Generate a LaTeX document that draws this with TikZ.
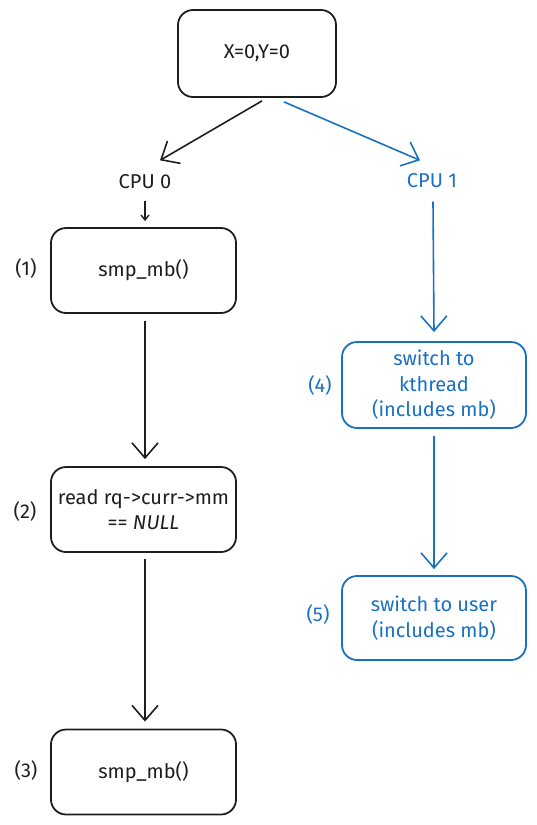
\documentclass[tikz,border=0pt]{standalone}
\usepackage{fontspec}
\usepackage{tikz}
\usetikzlibrary{arrows.meta,positioning}
\setmainfont{Fira Sans}
\definecolor{Ink}{HTML}{1E1E1E}
\definecolor{Blue}{HTML}{1971C2}

\begin{document}
\begin{tikzpicture}[x=1pt,y=-1pt,
    box/.style={draw=Ink,line width=1.8pt,rounded corners=15pt,minimum width=185pt,minimum height=85pt,align=center,text=Ink,font=\fontsize{20}{25.5}\selectfont,inner sep=2pt},
    bbox/.style={box,draw=Blue,text=Blue},
    lbl/.style={text=Ink,font=\fontsize{20}{25.5}\selectfont},
    blbl/.style={lbl,text=Blue},
    a/.style={-{Straight Barb[length=15pt,width=26pt,line width=1.6pt]},line width=1.6pt,draw=Ink},
    ab/.style={a,draw=Blue}]
    \useasboundingbox (0,0) rectangle (537,825);
    \node[box,minimum width=158pt,minimum height=87pt] (init) at (257,53.5) {X=0,Y=0};
    \node[lbl] (cpu0) at (145,182) {CPU 0};
    \node[blbl] (cpu1) at (432,181) {CPU 1};
    % CPU 0
    \node[box] (mb1) at (143.5,270.5) {smp\_mb()};
    \node[box] (rd) at (143.5,509.5) {read rq->curr->mm\\== \textit{NULL}};
    \node[box] (mb2) at (143.5,772) {smp\_mb()};
    \node[lbl] (n1) at (26,268) {(1)};
    \node[lbl] (n2) at (25,511) {(2)};
    \node[lbl] (n3) at (26,770) {(3)};
    % CPU 1
    \node[bbox,minimum width=184pt,minimum height=86pt] (kth) at (434,385) {switch to\\kthread\\(includes mb)};
    \node[bbox,minimum width=184pt,minimum height=84pt] (usr) at (434,618) {switch to user\\(includes mb)};
    \node[blbl] (n4) at (320,385) {(4)};
    \node[blbl] (n5) at (318,614) {(5)};
    \draw[a] ([xshift=5pt,yshift=-3pt]init.south) -- ([xshift=15pt,yshift=11pt]cpu0.north);
    \draw[ab] ([xshift=27pt,yshift=-4pt]init.south) -- ([xshift=-12pt,yshift=10pt]cpu1.north);
    \draw[a,-{Straight Barb[length=5pt,width=8pt,line width=1.4pt]}] ([yshift=-8pt]cpu0.south) -- ([xshift=1.5pt,yshift=6pt]mb1.north);
    \draw[a] ([xshift=1.5pt,yshift=-7pt]mb1.south) -- ([xshift=1.5pt,yshift=7pt]rd.north);
    \draw[a] ([xshift=1.5pt,yshift=-6pt]rd.south) -- ([xshift=1.5pt,yshift=7pt]mb2.north);
    \draw[ab] ([xshift=1pt,yshift=-10pt]cpu1.south) -- ([yshift=9pt]kth.north);
    \draw[ab] ([yshift=-7pt]kth.south) -- ([yshift=6pt]usr.north);
  \end{tikzpicture}
\end{document}
